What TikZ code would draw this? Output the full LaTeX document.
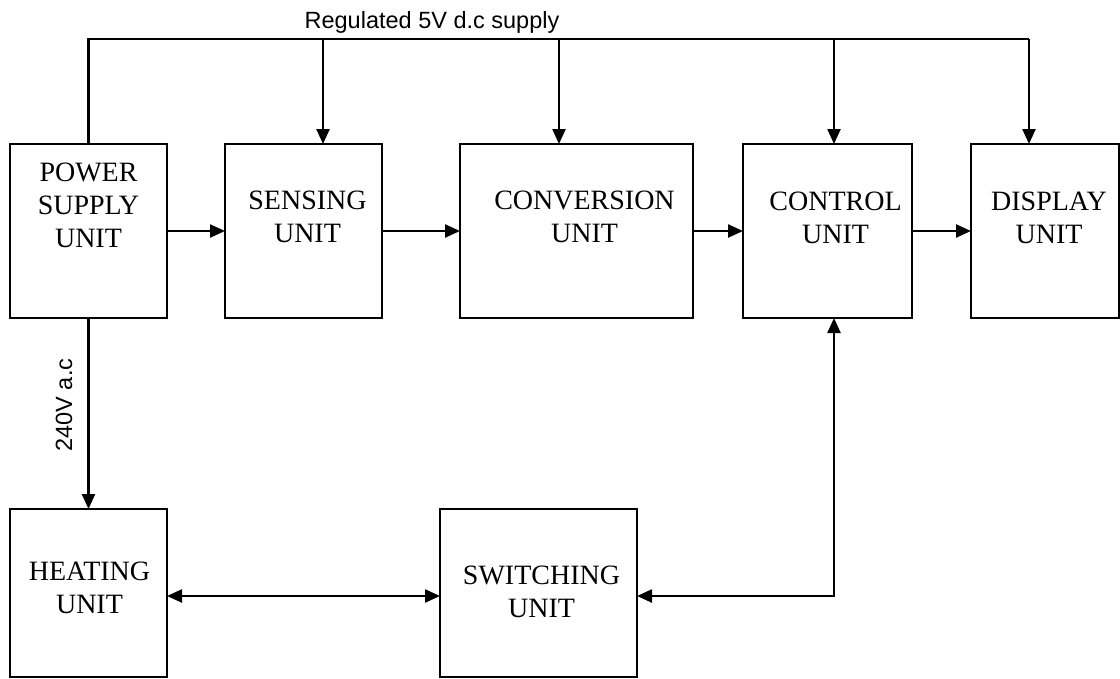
\documentclass[tikz,border=0pt]{standalone}
\usepackage{fontspec}
\setmainfont{Liberation Serif}
\newfontfamily\arialf{Liberation Sans}
\usetikzlibrary{arrows.meta,calc}
\begin{document}
\begin{tikzpicture}[x=1pt,y=-1pt,
  unitbox/.style={draw,line width=2pt,inner sep=0pt,outer sep=0pt,anchor=north west,minimum height=174pt},
  boxtext/.style={align=center,font=\fontsize{28}{33}\selectfont,inner sep=0pt},
  conn/.style={line width=2.4pt},
  arr/.style={conn,-{Triangle[length=15pt,width=13pt]}},
  darr/.style={conn,{Triangle[length=15pt,width=13pt]}-{Triangle[length=15pt,width=13pt]}},
  note/.style={font=\arialf\fontsize{23.5}{27}\selectfont,inner sep=0pt}]
\useasboundingbox[fill=white] (0,0) rectangle (1120,678);

\node[unitbox,minimum width=157pt,label={[boxtext,yshift=25.5pt]center:{POWER\\SUPPLY\\UNIT}}] (psu) at (10,144) {};
\node[unitbox,minimum width=157pt,label={[boxtext,xshift=4pt,yshift=14.5pt]center:{SENSING\\UNIT}}] (sen) at (225,144) {};
\node[unitbox,minimum width=233pt,label={[boxtext,xshift=8pt,yshift=14.5pt]center:{CONVERSION\\UNIT}}] (conv) at (460,144) {};
\node[unitbox,minimum width=169pt,label={[boxtext,xshift=8pt,yshift=13.5pt]center:{CONTROL\\UNIT}}] (ctrl) at (743,144) {};
\node[unitbox,minimum width=148pt,label={[boxtext,xshift=4pt,yshift=13.5pt]center:{DISPLAY\\UNIT}}] (disp) at (971,144) {};
\node[unitbox,minimum width=157pt,minimum height=168pt,label={[boxtext,xshift=1pt,yshift=5pt]center:{HEATING\\UNIT}}] (heat) at (10,509) {};
\node[unitbox,minimum width=197pt,minimum height=168pt,label={[boxtext,xshift=3pt,yshift=1.5pt]center:{SWITCHING\\UNIT}}] (sw) at (440,509) {};

\coordinate (b1) at (323,39);
\coordinate (b2) at (559,39);
\coordinate (b3) at (834,39);
\coordinate (b4) at (1029,39);
\coordinate (r) at (834,596);

\node[note] (reg) at (432,22) {Regulated 5V d.c supply};
\node[note,rotate=90] (ac) at (64,405) {240V a.c};

\draw[conn] (psu.north) -- (psu.north |- b4) -- (b4);
\draw[arr] (b1) -- (b1 |- sen.north);
\draw[arr] (b2) -- (b2 |- conv.north);
\draw[arr] (b3) -- (b3 |- ctrl.north);
\draw[arr] (b4) -- (b4 |- disp.north);

\draw[arr] (psu.east) -- (sen.west);
\draw[arr] (sen.east) -- (conv.west);
\draw[arr] (conv.east) -- (ctrl.west);
\draw[arr] (ctrl.east) -- (disp.west);

\draw[arr] (psu.south) -- (heat.north);
\draw[darr] (heat.east |- r) -- (sw.west |- r);
\draw[darr] (sw.east |- r) -- (r) -- (r |- ctrl.south);
\end{tikzpicture}
\end{document}
